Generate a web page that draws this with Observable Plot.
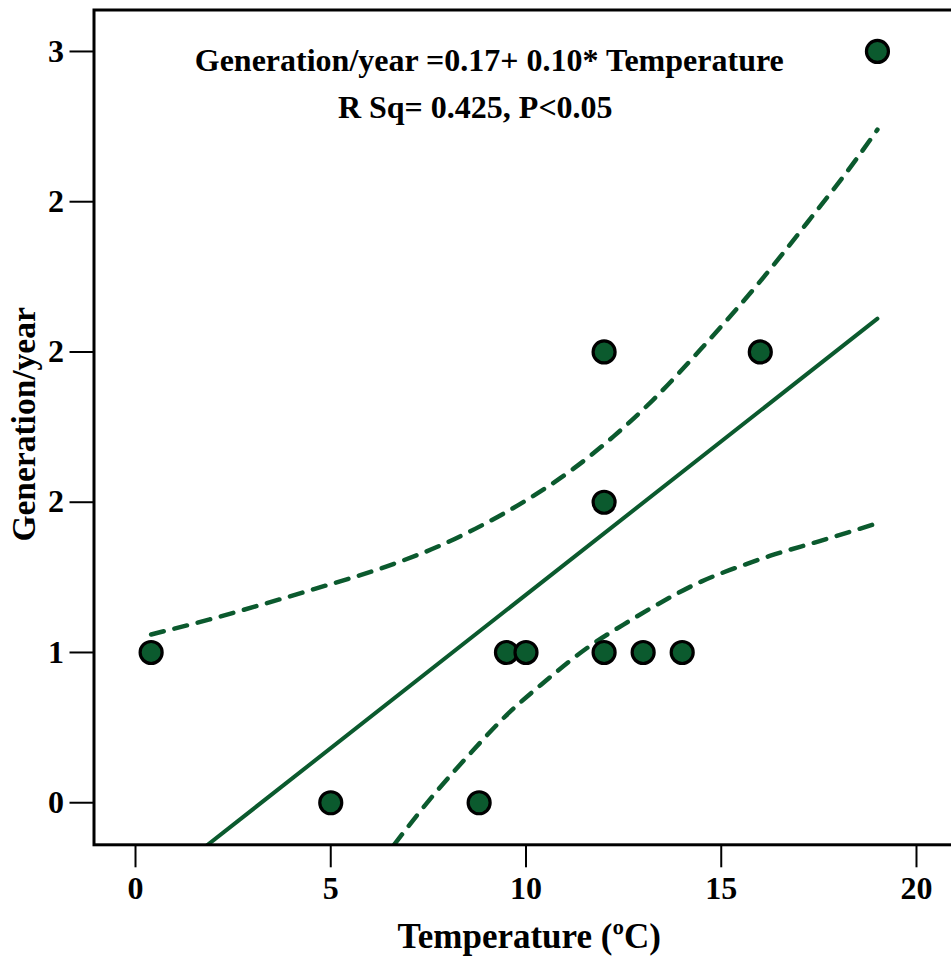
<!DOCTYPE html>
<html>
<head>
<meta charset="utf-8">
<script src="https://cdn.jsdelivr.net/npm/d3@7"></script>
<script src="https://cdn.jsdelivr.net/npm/@observablehq/plot@0.6"></script>
<style>
  html, body { margin: 0; padding: 0; background: #fff; overflow: hidden; }
  #chart svg { display: block; max-width: none !important; height: 958px !important; }
  #chart g[aria-label$="tick"] path, #chart g[aria-label$="axis"] line { stroke-width: 2px; }
</style>
</head>
<body>
<div id="chart"></div>
<script>
// Observations
const temperature = [0.4, 5, 8.8, 9.5, 10, 12, 12, 12, 13, 14, 16, 19];
const generation  = [1, 0.5, 0.5, 1, 1, 1, 1.5, 2, 1, 1, 2, 3];

// 95% confidence band
const upperX = [0.4, 1.9, 3.25, 4.55, 6.4, 7.7, 8.9, 10.05, 11.2, 12.25, 13.25, 14.55, 15.9, 17.2, 18.45, 19];
const upperY = [1.06, 1.11, 1.16, 1.21, 1.285, 1.35, 1.425, 1.51, 1.61, 1.72, 1.84, 2.02, 2.22, 2.43, 2.64, 2.74];
const lowerX = [6.62, 7.66, 8.58, 9.49, 10.5, 11.51, 12.65, 13.3, 14.47, 15.66, 16.26, 17.5, 19];
const lowerY = [0.36, 0.53, 0.665, 0.79, 0.905, 1.01, 1.105, 1.155, 1.235, 1.295, 1.322, 1.37, 1.43];

// Ticks
const xTicks = [0, 5, 10, 15, 20];
const yTicks = [0.5, 1, 1.5, 2, 2.5, 3];
const yTickLabels = ["0", "1", "2", "2", "2", "3"];

// Texts
const equationText = "Generation/year =0.17+ 0.10* Temperature";
const statsText = "R Sq= 0.425, P<0.05";
const xLabel = "Temperature (ºC)";
const yLabel = "Generation/year";

const points = temperature.map((t, i) => ({t, g: generation[i]}));
const upper = upperX.map((x, i) => ({x, y: upperY[i]}));
const lower = lowerX.map((x, i) => ({x, y: lowerY[i]}));

const green = "#0b5a2e";
const font = "'Liberation Serif', 'Times New Roman', serif";

const chart = Plot.plot({
  width: 960,
  height: 958,
  marginLeft: 93.5,
  marginRight: 0,
  marginTop: 9.5,
  marginBottom: 113.7,
  style: {fontFamily: font, fontSize: "32px", fontWeight: "bold", color: "#000", background: "#fff"},
  x: {domain: [-1.063, 21.127], ticks: xTicks, tickFormat: d => String(d), tickSize: 23, tickPadding: 8, label: null},
  y: {domain: [0.36, 3.138], ticks: yTicks, tickFormat: d => yTickLabels[yTicks.indexOf(d)], tickSize: 24, tickPadding: 6, label: null},
  marks: [
    Plot.line(upper, {x: "x", y: "y", stroke: green, strokeWidth: 4.5, strokeDasharray: "13,11", curve: "monotone-x", clip: true}),
    Plot.line(lower, {x: "x", y: "y", stroke: green, strokeWidth: 4.5, strokeDasharray: "13,11", curve: "monotone-x", clip: true}),
    Plot.linearRegressionY(points, {x: "t", y: "g", ci: 0, stroke: green, strokeWidth: 4, clip: true}),
    Plot.dot(points, {x: "t", y: "g", r: 11, fill: green, stroke: "#000", strokeWidth: 3.2}),
    Plot.frame({stroke: "#000", strokeWidth: 3}),
    Plot.text([equationText], {frameAnchor: "top", dx: -38, dy: 60.5, lineAnchor: "bottom", text: d => d, fontSize: 32, fontWeight: "bold", fontFamily: font, fill: "#000"}),
    Plot.text([statsText], {frameAnchor: "top", dx: -52, dy: 107.5, lineAnchor: "bottom", text: d => d, fontSize: 32, fontWeight: "bold", fontFamily: font, fill: "#000"}),
    Plot.text([xLabel], {frameAnchor: "bottom", dx: 2, dy: 102.7, lineAnchor: "bottom", text: d => d, fontSize: 35, fontWeight: "bold", fontFamily: font, fill: "#000"}),
    Plot.text([yLabel], {frameAnchor: "left", textAnchor: "middle", dx: -59.5, dy: -3, rotate: -90, lineAnchor: "bottom", text: d => d, fontSize: 33.5, fontWeight: "bold", fontFamily: font, fill: "#000"})
  ]
});

document.getElementById("chart").appendChild(chart);
</script>
</body>
</html>
